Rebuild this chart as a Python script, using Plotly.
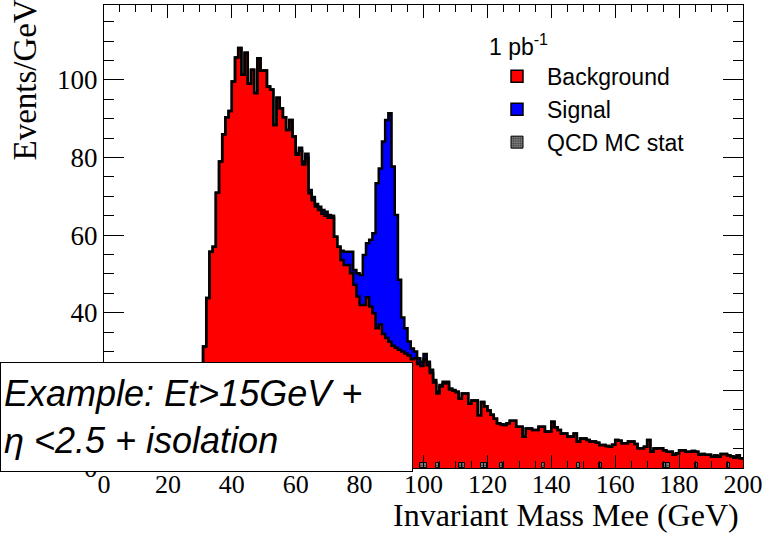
import numpy as np
import plotly.graph_objects as go

# ---- data: 1 GeV bins from 0 to 200 GeV ----
bin_edges = np.arange(0, 201, 1)
bin_centers = bin_edges[:-1] + 0.5

background = [
    0, 0, 0, 0, 0, 0, 0, 0, 0, 0,
    0, 0, 0, 0, 0, 0, 0, 0, 0, 0,
    0, 0, 1, 2, 4, 6, 9, 13, 17, 21,
    25, 31.3, 43.8, 55.7, 57, 70.9, 79, 86, 90.4, 92,
    99.6, 105.8, 108.2, 101.3, 107, 99.1, 102.6, 96.6, 105.6, 102.4,
    102.4, 98.3, 97.5, 88.4, 95.4, 92.7, 90.4, 87.1, 89.7, 85.4,
    80.7, 81.7, 78.2, 80, 70.8, 69, 67.4, 66.5, 65.5, 65,
    64.5, 64.5, 59.6, 57, 53.6, 52.3, 52.3, 50.2, 47.2, 44.2,
    42, 42, 44, 41.6, 39.9, 36, 37, 34.5, 33.5, 32.5,
    31.5, 31, 30.5, 30, 29.5, 29, 28, 28.3, 26.8, 26.3,
    28, 26.5, 24.5, 22, 19.2, 21, 21.8, 21.9, 20.2, 19.9,
    19.5, 17.9, 19.2, 19.2, 16.6, 17.4, 17.4, 13.6, 17, 15.9,
    14.8, 13.7, 12.7, 11.5, 11.3, 11.1, 11.5, 12.2, 12.2, 10.6,
    10.6, 8.1, 10.2, 10.2, 9.8, 9.8, 10.6, 10.6, 9.4, 9.4,
    11.9, 10.5, 9.8, 8.9, 8.9, 8.1, 8.1, 8.9, 6.8, 7.6,
    7.6, 7.2, 6.8, 6.8, 6.5, 5.9, 5.9, 5.7, 5.5, 6.0,
    7.2, 7.0, 6.4, 6.4, 6.8, 6.8, 6.2, 5.1, 5.1, 5.5,
    7.2, 4.2, 5.0, 5.1, 5.1, 4.6, 4.2, 4.2, 3.4, 3.8,
    4.6, 4.6, 4.2, 4.2, 4.4, 4.2, 3.4, 3.6, 3.4, 3.4,
    2.9, 3.2, 2.9, 3.6, 3.6, 3.3, 3.0, 2.7, 3.2, 2.5,
]

signal = [
    0, 0, 0, 0, 0, 0, 0, 0, 0, 0,
    0, 0, 0, 0, 0, 0, 0, 0, 0, 0,
    0, 0, 0, 0, 0, 0, 0, 0, 0, 0,
    0, 0, 0, 0, 0, 0, 0, 0, 0, 0,
    0, 0, 0, 0, 0, 0, 0, 0, 0, 0,
    0, 0, 0, 0, 0, 0, 0, 0, 0, 0,
    0.4, 0.8, 0.8, 1, 0.8, 0.8, 0.6, 0.8, 1, 1,
    0.7, 0.5, 0, 0, 2.4, 3.4, 3.4, 5.5, 3.8, 6.0,
    7.7, 12.9, 13.9, 17.2, 20.6, 37.4, 40.2, 49.6, 56.2, 58.9,
    46.2, 34.2, 18, 8.8, 6.5, 3.6, 2.8, 1.7, 1.5, 1.1,
    1.4, 0.9, 0.8, 0.7, 0.5, 0.4, 0.4, 0.3, 0.3, 0.2,
    0.2, 0, 0, 0, 0, 0, 0, 0, 0, 0,
    0, 0, 0, 0, 0, 0, 0, 0, 0, 0,
    0, 0, 0, 0, 0, 0, 0, 0, 0, 0,
    0, 0, 0, 0, 0, 0, 0, 0, 0, 0,
    0, 0, 0, 0, 0, 0, 0, 0, 0, 0,
    0, 0, 0, 0, 0, 0, 0, 0, 0, 0,
    0, 0, 0, 0, 0, 0, 0, 0, 0, 0,
    0, 0, 0, 0, 0, 0, 0, 0, 0, 0,
    0, 0, 0, 0, 0, 0, 0, 0, 0, 0,
]

qcd_bins = [99, 100, 104, 111, 112, 118, 119, 124, 137, 148, 155, 175, 176, 185, 195]
qcd_values = [1.4, 1.4, 1.4, 1.4, 1.4, 1.4, 1.4, 1.4, 1.4, 1.4, 1.4, 1.4, 1.4, 1.4, 1.4]

x_tick_values = [0, 20, 40, 60, 80, 100, 120, 140, 160, 180, 200]
y_tick_values = [0, 20, 40, 60, 80, 100]

# ---- derived ----
bkg = np.array(background)
sig = np.array(signal)
total = bkg + sig
qcd_x = np.array(qcd_bins) + 0.5

legend_border = [1.5] + [0] * (len(bkg) - 1)

fig = go.Figure()

fig.add_trace(go.Bar(
    x=bin_centers, y=bkg, width=1, name="Background",
    marker=dict(color="#ff0000", line=dict(color="black", width=legend_border)),
    hoverinfo="skip",
))
fig.add_trace(go.Bar(
    x=bin_centers, y=sig, base=bkg, width=1, name="Signal",
    marker=dict(color="#0000ff", line=dict(color="black", width=legend_border)),
    hoverinfo="skip",
))
fig.add_trace(go.Bar(
    x=qcd_x, y=qcd_values, width=1, name="QCD MC stat",
    marker=dict(color="#8c8c8c",
                pattern=dict(shape=".", fgcolor="black", size=3, solidity=0.5),
                line=dict(color="black", width=1)),
    hoverinfo="skip",
))

# histogram outlines (step lines)
fig.add_trace(go.Scatter(
    x=bin_edges, y=np.append(bkg, bkg[-1]), mode="lines",
    line=dict(shape="hv", color="black", width=2.5),
    showlegend=False, hoverinfo="skip",
))
fig.add_trace(go.Scatter(
    x=bin_edges, y=np.append(total, total[-1]), mode="lines",
    line=dict(shape="hv", color="black", width=2.5),
    showlegend=False, hoverinfo="skip",
))

W, H = 763, 542
L, R, T, B = 104, 20, 5, 74
pw, ph = W - L - R, H - T - B


def px_x(p):
    return (p - L) / pw


def px_y(p):
    return (H - B - p) / ph


serif = "Liberation Serif"
sans = "Liberation Sans"

fig.update_layout(
    width=W, height=H, autosize=False,
    margin=dict(l=L, r=R, t=T, b=B, pad=0, autoexpand=False),
    paper_bgcolor="white", plot_bgcolor="white",
    barmode="overlay", bargap=0,
    showlegend=True,
    legend=dict(
        x=px_x(487), y=px_y(25), xanchor="left", yanchor="top",
        bgcolor="rgba(0,0,0,0)", borderwidth=0,
        font=dict(family=sans, size=23, color="black"),
        title=dict(text="1 pb<sup>-1</sup>", font=dict(family=sans, size=23, color="black")),
        itemwidth=50, tracegroupgap=0,
    ),
    xaxis=dict(
        range=[0, 200], tickvals=x_tick_values, ticks="inside", ticklen=13,
        tickwidth=1, tickcolor="black", showline=True, linecolor="black",
        linewidth=1, mirror="ticks", showgrid=False, zeroline=False,
        automargin=False,
        tickfont=dict(family=serif, size=26, color="black"),
        ticklabeloverflow="allow", ticklabelstandoff=-7,
        minor=dict(dtick=5, ticks="inside", ticklen=7, tickcolor="black", tickwidth=1, showgrid=False),
    ),
    yaxis=dict(
        range=[0, 119.3], tickvals=y_tick_values, ticks="inside", ticklen=20,
        tickwidth=1, tickcolor="black", showline=True, linecolor="black",
        linewidth=1, mirror="ticks", showgrid=False, zeroline=False,
        automargin=False,
        tickfont=dict(family=serif, size=27, color="black"),
        minor=dict(dtick=5, ticks="inside", ticklen=10, tickcolor="black", tickwidth=1, showgrid=False),
    ),
    annotations=[
        dict(
            text="<i>Example: Et&gt;15GeV +<br>η &lt;2.5 + isolation</i>",
            xref="paper", yref="paper", x=px_x(0), y=px_y(362),
            xanchor="left", yanchor="top", align="left", valign="middle",
            width=405, height=102, borderpad=3, borderwidth=1,
            bordercolor="black", bgcolor="white", showarrow=False,
            font=dict(family=sans, size=36, color="black"),
        ),
        dict(
            text="Invariant Mass Mee (GeV)",
            xref="paper", yref="paper", x=px_x(741), y=px_y(515),
            xanchor="right", yanchor="middle", showarrow=False,
            font=dict(family=serif, size=32, color="black"),
        ),
        dict(
            text="Events/GeV", textangle=-90,
            xref="paper", yref="paper", x=px_x(24), y=px_y(-2),
            xanchor="center", yanchor="top", showarrow=False,
            font=dict(family=serif, size=33, color="black"),
        ),
    ],
)

fig.write_html("out.html")
